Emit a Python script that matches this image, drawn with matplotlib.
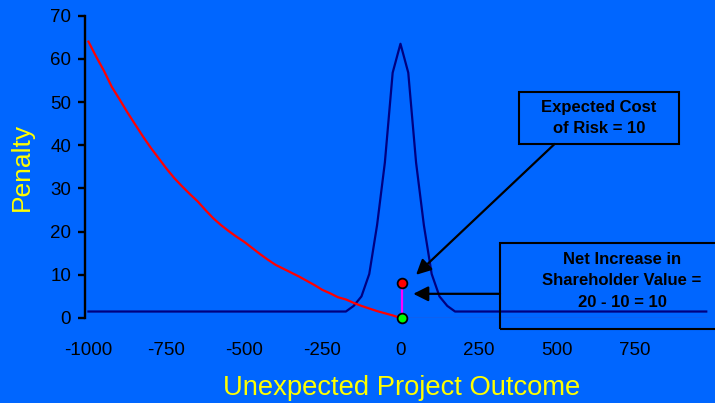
import matplotlib.pyplot as plt
from matplotlib.patches import Rectangle

plt.rcParams["font.family"] = ["Liberation Sans", "DejaVu Sans"]
plt.rcParams["axes.unicode_minus"] = False

BG = "#0066FF"

# Penalty function (red)
penalty_x = [-1000, -975, -950, -925, -900, -875, -850, -825, -800, -775, -750,
             -725, -700, -675, -650, -625, -600, -575, -550, -525, -500, -475,
             -450, -425, -400, -375, -350, -325, -300, -275, -250, -225, -200,
             -175, -150, -125, -100, -75, -50, -25, 0]
penalty_y = [64.0, 60.5, 57.2, 53.5, 50.6, 47.6, 44.8, 42.0, 39.4, 37.0, 34.6,
             32.4, 30.5, 28.7, 27.0, 25.0, 23.1, 21.5, 20.1, 18.8, 17.6, 16.2,
             14.8, 13.5, 12.3, 11.4, 10.5, 9.6, 8.6, 7.6, 6.5, 5.7, 4.8,
             4.3, 3.5, 2.8, 2.2, 1.6, 1.1, 0.6, 0.0]
# flat part of the penalty line beyond zero
penalty_flat_x = [0, 980]
penalty_flat_y = [0.0, 0.0]

# Outcome distribution (navy)
dist_x = [-1000, -175, -150, -125, -100, -75, -50, -25, 0,
          25, 50, 75, 100, 125, 150, 175, 980]
dist_y = [1.5, 1.5, 2.8, 5.0, 10.2, 21.5, 36.0, 56.8, 63.5,
          56.8, 36.0, 21.5, 10.2, 5.0, 2.8, 1.5, 1.5]

# expected cost marker and zero marker
point_x = 6
expected_cost = 8.0
zero_value = 0.0

xticks = [-1000, -750, -500, -250, 0, 250, 500, 750]
yticks = [0, 10, 20, 30, 40, 50, 60, 70]

fig = plt.figure(figsize=(7.15, 4.03), dpi=100, facecolor=BG)
ax = fig.add_axes([85 / 715, 1 - 318 / 403, 630 / 715, 302.3 / 403])
ax.set_facecolor(BG)

ax.plot(dist_x, dist_y, color="#000080", lw=1.6, zorder=3)
ax.plot(penalty_x, penalty_y, color="#FF0000", lw=1.6, zorder=4)
ax.plot(penalty_flat_x, penalty_flat_y, color="#FF0000", lw=0.8, zorder=4)

ax.plot([point_x, point_x], [zero_value, expected_cost], color="#FF00FF", lw=1.6, zorder=5)
ax.plot([point_x], [expected_cost], "o", ms=7, mfc="#FF0000", mec="black", mew=1.3,
        zorder=6, clip_on=False)
ax.plot([point_x], [zero_value], "o", ms=7, mfc="#00FF00", mec="black", mew=1.3,
        zorder=6, clip_on=False)

ax.set_xlim(-1011, 1008)
ax.set_ylim(0, 70)
ax.set_xticks(xticks)
ax.set_yticks(yticks)
for s in ["top", "right", "bottom"]:
    ax.spines[s].set_visible(False)
ax.spines["left"].set_linewidth(1.7)
ax.tick_params(axis="y", length=5, width=1.7, pad=5, labelsize=13.5, colors="black")
ax.tick_params(axis="x", length=0, pad=17, labelsize=13.5, colors="black")

fig.text(22 / 715, 1 - 167 / 403, "Penalty", color="#FFFF00", fontsize=19,
         rotation=90, ha="center", va="center")
fig.text(402 / 715, 1 - 395 / 403, "Unexpected Project Outcome", color="#FFFF00",
         fontsize=19.7, ha="center", va="baseline")

# annotation boxes
ax.add_patch(Rectangle((380, 40.3), 513, 12.1, fill=False, ec="black", lw=1.5,
                       clip_on=False, zorder=7))
ax.text(636, 46.3, "Expected Cost\nof Risk = 10", ha="center", va="center",
        fontsize=12, fontweight="bold", color="black", linespacing=1.45, zorder=8)
ax.annotate("", xy=(50, 10), xytext=(494, 40.3),
            arrowprops=dict(arrowstyle="-|>,head_length=0.9,head_width=0.45",
                            color="black", lw=1.6, shrinkA=0, shrinkB=0), zorder=8)

ax.add_patch(Rectangle((319, -2.6), 900, 19.9, fill=False, ec="black", lw=1.5,
                       clip_on=False, zorder=7))
ax.text(710, 8.6, "Net Increase in\nShareholder Value =\n20 - 10 = 10", ha="center",
        va="center", fontsize=12, fontweight="bold", color="black", linespacing=1.55,
        zorder=8)
ax.annotate("", xy=(41, 5.6), xytext=(319, 5.6),
            arrowprops=dict(arrowstyle="-|>,head_length=0.9,head_width=0.45",
                            color="black", lw=1.6, shrinkA=0, shrinkB=0), zorder=8)

fig.savefig("out.png", dpi=100, facecolor=BG)
